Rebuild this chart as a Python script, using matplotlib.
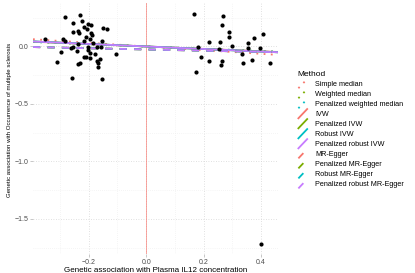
import numpy as np
import matplotlib
matplotlib.use("Agg")
import matplotlib.pyplot as plt
from matplotlib.lines import Line2D
from matplotlib.legend_handler import HandlerBase

plt.rcParams['font.family'] = ['Liberation Sans', 'DejaVu Sans']

# genetic associations with the exposure (x) and the outcome (y)
bx = [-0.282, -0.230, -0.224, -0.255, -0.201, -0.191, -0.215, -0.206, -0.149, -0.135,
      -0.253, -0.239, -0.234, -0.193, -0.189, -0.209, -0.197, -0.218, -0.351, -0.288,
      -0.282, -0.154, -0.185, -0.239, -0.255, -0.261, -0.204, -0.171, -0.157, -0.297,
      -0.241, -0.201, -0.195, -0.178, -0.218, -0.209, -0.104, -0.197, -0.160, -0.171,
      -0.309, -0.230, -0.236, -0.166, -0.166, -0.258, -0.154,
      0.165, 0.267, 0.264, 0.287, 0.290, 0.180, 0.218, 0.258, 0.298, 0.252,
      0.356, 0.354, 0.377, 0.408, 0.397, 0.333, 0.190, 0.218, 0.264, 0.260,
      0.336, 0.370, 0.431, 0.173, 0.400]
by = [0.259, 0.277, 0.224, 0.207, 0.196, 0.190, 0.172, 0.155, 0.163, 0.150,
      0.123, 0.135, 0.115, 0.115, 0.097, 0.080, 0.063, 0.050, 0.063, 0.063,
      0.050, 0.050, 0.033, 0.019, -0.002, -0.010, -0.002, -0.002, -0.002, -0.050,
      -0.039, -0.030, -0.054, -0.065, -0.094, -0.094, -0.065, -0.103, -0.111, -0.126,
      -0.132, -0.141, -0.152, -0.141, -0.181, -0.271, -0.283,
      0.280, 0.268, 0.184, 0.129, 0.085, -0.004, 0.042, 0.042, 0.004, -0.019,
      0.028, -0.010, 0.071, 0.109, -0.010, -0.065, -0.089, -0.126, -0.129, -0.158,
      -0.146, -0.117, -0.146, -0.222, -1.717]

methods = ['Simple median', 'Weighted median', 'Penalized weighted median',
           'IVW', 'Penalized IVW', 'Robust IVW', 'Penalized robust IVW',
           'MR-Egger', 'Penalized MR-Egger', 'Robust MR-Egger', 'Penalized robust MR-Egger']
slopes = [-0.160, -0.100, -0.100, -0.105, -0.110, -0.110, -0.110,
          -0.053, -0.053, -0.053, -0.053]
intercepts = [0, 0, 0, 0, 0, 0, 0, -0.026, -0.026, -0.026, -0.026]

hue = ['#F8766D', '#7CAE00', '#00BFC4', '#C77CFF']
colors = [hue[0], hue[1], hue[2], hue[0], hue[1], hue[2], hue[3],
          hue[0], hue[1], hue[2], hue[3]]
styles = [(0, (1, 3))] * 3 + ['-'] * 4 + [(0, (4, 4))] * 4


class DiagonalKey(HandlerBase):
    def create_artists(self, legend, orig, xdescent, ydescent, width, height, fontsize, trans):
        line = Line2D([-xdescent + 1, -xdescent + width - 1],
                      [-ydescent - 1, -ydescent + height + 1])
        line.update_from(orig)
        line.set_transform(trans)
        return [line]


fig = plt.figure(figsize=(4.15, 2.73), dpi=100)
ax = fig.add_axes([0.0795, 0.070, 0.591, 0.919])

ax.set_xlim(-0.394, 0.460)
ax.set_ylim(-1.804, 0.378)
ax.set_xticks([-0.2, 0.0, 0.2, 0.4])
ax.set_yticks([-1.5, -1.0, -0.5, 0.0])
ax.set_xticks([-0.3, -0.1, 0.1, 0.3], minor=True)
ax.set_yticks([-1.75, -1.25, -0.75, -0.25, 0.25], minor=True)
ax.grid(which='major', color='#d6d6d6', linestyle=(0, (1, 2)), linewidth=0.6)
ax.grid(which='minor', color='#ececec', linestyle=(0, (1, 2)), linewidth=0.5)
ax.set_axisbelow(True)
for s in ax.spines.values():
    s.set_visible(False)
ax.tick_params(which='major', length=2, width=0.5, color='#b0b0b0',
               labelsize=5, labelcolor='#4d4d4d', pad=1.5)
ax.tick_params(which='minor', length=0)

ax.axvline(0, color='#F8766D', linewidth=0.7, alpha=0.65, zorder=1)

ax.scatter(bx, by, s=9, color='black', zorder=3, linewidths=0)

handles = []
for name, sl, ic, c, ls in zip(methods, slopes, intercepts, colors, styles):
    ax.axline((0, ic), slope=sl, color=c, linestyle=ls, linewidth=1.3, zorder=2)
    handles.append(Line2D([], [], color=c, linestyle=ls, linewidth=1.3, label=name))

ax.set_xlabel('Genetic association with Plasma IL12 concentration', fontsize=5.8, labelpad=1)
ax.set_ylabel('Genetic association with Occurrence of multiple sclerosis', fontsize=4.4, labelpad=2)
ax.yaxis.set_label_coords(-0.085, 0.535)

leg = fig.legend(handles=handles, loc='center left', bbox_to_anchor=(0.700, 0.525),
                 frameon=False, fontsize=5.2, title='Method', title_fontsize=6,
                 handlelength=1.6, handleheight=1.0, handletextpad=0.9,
                 labelspacing=0.32, alignment='left',
                 handler_map={Line2D: DiagonalKey()})

fig.savefig('out.png', dpi=100)
